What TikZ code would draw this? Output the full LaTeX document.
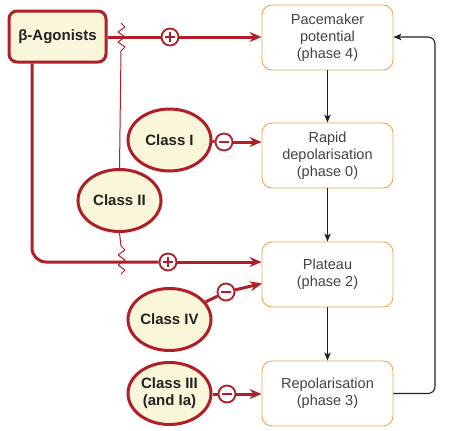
\documentclass[tikz,border=0pt]{standalone}
\usepackage{fontspec}
\setmainfont{Liberation Sans}
\usetikzlibrary{arrows.meta,shapes.geometric}
\definecolor{dred}{HTML}{B01E28}
\definecolor{cream}{HTML}{FAF6DA}
\definecolor{orng}{HTML}{E8A850}
\definecolor{blk}{HTML}{222222}
\tikzset{
  phasebox/.style={draw=orng, line width=0.9pt, rounded corners=10pt, fill=white,
    minimum width=131pt, minimum height=65pt, inner sep=0pt, align=center,
    font=\fontsize{14.5}{17}\selectfont, text=blk!85},
  drugbox/.style={draw=dred, line width=3pt, rounded corners=8pt, fill=cream,
    minimum width=97pt, minimum height=51pt, inner sep=0pt, align=center,
    font=\fontsize{15}{17}\selectfont\bfseries, text=blk},
  drugell/.style={ellipse, draw=dred, line width=3pt, fill=cream,
    minimum width=83pt, minimum height=62pt, inner sep=0pt, align=center,
    font=\fontsize{15}{17}\selectfont\bfseries, text=blk},
  signc/.style={circle, draw=dred, line width=1.8pt, fill=white, minimum size=17pt, inner sep=0pt},
  plusc/.style={signc, path picture={
    \draw[dred, line width=1.6pt] ([xshift=-5pt]path picture bounding box.center) -- ([xshift=5pt]path picture bounding box.center);
    \draw[dred, line width=1.6pt] ([yshift=-5pt]path picture bounding box.center) -- ([yshift=5pt]path picture bounding box.center);}},
  minusc/.style={signc, path picture={
    \draw[dred, line width=1.6pt] ([xshift=-5pt]path picture bounding box.center) -- ([xshift=5pt]path picture bounding box.center);}},
  redarrow/.style={draw=dred, line width=3pt, -{Stealth[length=12pt,width=10pt,inset=4pt]}},
  redline/.style={draw=dred, line width=3pt},
  thinred/.style={draw=dred, line width=1pt},
  blkarrow/.style={draw=blk, line width=1.1pt, -{Stealth[length=8pt,width=6.5pt,inset=2pt]}},
}
\begin{document}
\begin{tikzpicture}[x=1pt,y=-1pt]
\useasboundingbox (0,0) rectangle (450,431);
% phase boxes
\node[phasebox] (b1) at (327.5,37.5) {Pacemaker\\potential\\(phase 4)};
\node[phasebox] (b2) at (327.5,155.5) {Rapid\\depolarisation\\(phase 0)};
\node[phasebox] (b3) at (327.5,274.5) {Plateau\\(phase 2)};
\node[phasebox] (b4) at (327.5,393.5) {Repolarisation\\(phase 3)};
% black arrows
\draw[blkarrow] (b1) -- (b2);
\draw[blkarrow] (b2) -- (b3);
\draw[blkarrow] (b3) -- (b4);
\coordinate (fb1) at (435,393.5);
\coordinate (fb2) at (435,37);
\draw[blkarrow, rounded corners=7pt] (b4.east) -- (fb1) -- (fb2) -- (b1.east |- fb2);
% drug nodes
\node[drugbox] (beta) at (57.5,36.5) {β-Agonists};
\node[drugell] (c1) at (169.5,140) {Class I};
\node[drugell] (c2) at (119.5,200.5) {Class II};
\node[drugell] (c4) at (169.5,319.5) {Class IV};
\node[drugell] (c3) at (169.5,393.5) {Class III\\(and Ia)};
% sign circles
\node[plusc] (p1) at (170,37) {};
\node[plusc] (p3) at (168,262) {};
\node[minusc] (m1) at (224,142) {};
\node[minusc] (m4) at (226,292) {};
\node[minusc] (m3) at (227,394) {};
% thin class II line with zigzags
\coordinate (z1) at (121,51);
\coordinate (z2) at (121,246);
\draw[thinred] (c2.north) -- (z1);
\draw[thinred, line join=round] (z1) -- ++(4,-4) -- ++(-7,-5) -- ++(7,-5) -- ++(-7,-5) -- ++(7,-5) -- ++(-4,-4);
\draw[thinred] (c2.south) -- (z2);
\draw[thinred, line join=round] (z2) -- ++(4,4) -- ++(-7,5) -- ++(7,5) -- ++(-7,5) -- ++(7,5) -- ++(-4,4);
% beta arrows
\draw[redline] (beta.east |- p1) -- (p1);
\draw[redarrow] (p1) -- (b1.west |- p1);
\coordinate (bcorner) at (32,262);
\draw[redline, rounded corners=14pt] (beta.south -| bcorner) -- (bcorner) -- (p3);
\draw[redarrow] (p3) -- (b3.west |- p3);
% class arrows
\draw[redline] (c1) -- (m1);
\draw[redarrow] (m1) -- (b2.west |- m1);
\draw[redline] (c4) -- (m4);
\coordinate (a4) at (262,283.5);
\draw[redarrow] (m4) -- (a4);
\draw[redline] (c3.east |- m3) -- (m3);
\draw[redarrow] (m3) -- (b4.west |- m3);
\end{tikzpicture}
\end{document}
